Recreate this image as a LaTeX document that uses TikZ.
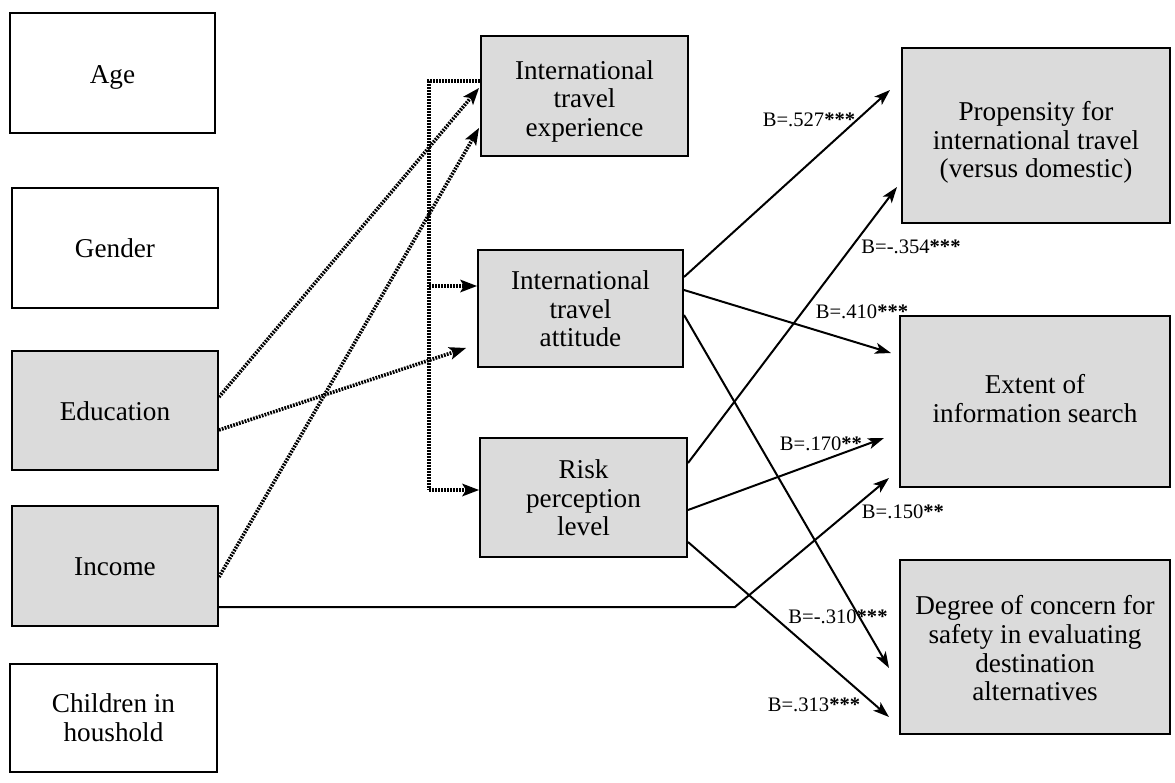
\documentclass[tikz,border=0pt]{standalone}
\usepackage{fontspec}
\setmainfont{Liberation Serif}
\usetikzlibrary{arrows.meta,calc}
\newcommand\dn[2]{\raisebox{-#1}[\height][\depth]{\begin{tabular}{@{}c@{}}#2\end{tabular}}}
\begin{document}
\begin{tikzpicture}[x=0.5pt,y=-0.5pt,
  box/.style={draw, line width=1pt, align=center, inner sep=2pt,
    font=\fontsize{13.6}{14.3}\selectfont},
  wbox/.style={box, fill=white},
  gbox/.style={box, fill=black!14},
  conn/.style={line width=1pt, -{Stealth[length=8pt,width=5.5pt,inset=2pt]}},
  dotline/.style={line width=1.8pt, dash pattern=on 0.9pt off 0.6pt},
  dotarrow/.style={dotline, -{Stealth[length=8.5pt,width=6.5pt,inset=2pt,line width=0pt]}},
  lab/.style={font=\fontsize{10.3}{12}\selectfont, inner sep=0pt}
]
\useasboundingbox (0,0) rectangle (1175,783);

% left column
\node[wbox, minimum width=102.5pt, minimum height=60pt] (age) at (112.5,73) {\dn{2.5pt}{Age}};
\node[wbox, minimum width=103pt, minimum height=60pt] (gen) at (115,248) {\dn{2pt}{Gender}};
\node[gbox, minimum width=103pt, minimum height=59.5pt] (edu) at (115,410.5) {\dn{2pt}{Education}};
\node[gbox, minimum width=103pt, minimum height=60pt] (inc) at (115,566) {\dn{2pt}{Income}};
\node[wbox, minimum width=103.5pt, minimum height=54pt] (chi) at (113.5,718) {\dn{1.5pt}{Children in\\houshold}};

% middle column
\node[gbox, minimum width=103.5pt, minimum height=60pt] (exp) at (584.5,96) {\dn{3pt}{International\\travel\\experience}};
\node[gbox, minimum width=102.5pt, minimum height=58.5pt] (att) at (580.5,308.5) {\dn{2pt}{International\\travel\\attitude}};
\node[gbox, minimum width=103.5pt, minimum height=59.5pt] (risk) at (583.5,497.5) {\dn{2pt}{Risk\\perception\\level}};

% right column
\node[gbox, minimum width=134pt, minimum height=87.5pt] (prop) at (1036,135.5) {\dn{4pt}{Propensity for\\international travel\\(versus domestic)}};
\node[gbox, minimum width=135pt, minimum height=85.5pt] (ext) at (1035,401.5) {\dn{0.5pt}{Extent of\\information search}};
\node[gbox, minimum width=135pt, minimum height=87pt] (deg) at (1035,647) {\dn{2.5pt}{Degree of concern for\\safety in evaluating\\destination\\alternatives}};

% dotted trunk
\coordinate (t1) at (429,81);
\coordinate (t2) at (429,286);
\coordinate (t3) at (429,490);
\draw[dotline] ($(exp.west)+(0,-15)$) -- (t1) -- (t3);
\draw[dotarrow] (t2) -- ($(att.west)+(0,-22.5)$);
\draw[dotarrow] (t3) -- ($(risk.west)+(0,-7.5)$);

% dotted demographic arrows
\draw[dotarrow] ($(edu.east)+(0,-13.5)$) -- ($(exp.west)+(-1,-8)$);
\draw[dotarrow] ($(inc.east)+(0,11)$) -- ($(exp.west)+(-1,32)$);
\draw[dotarrow] ($(edu.east)+(0,19.5)$) -- ($(att.west)+(-11,39.5)$);

% solid arrows
\coordinate (bend) at (735,607);
\draw[conn] ($(att.east)+(0,-31.5)$) -- ($(prop.west)+(-11,-45.5)$);
\draw[conn] ($(risk.east)+(0,-34.5)$) -- ($(prop.west)+(-4,51.5)$);
\draw[conn] ($(att.east)+(0,-18.5)$) -- ($(ext.west)+(-8,-48.5)$);
\draw[conn] ($(att.east)+(0,6.5)$) -- ($(deg.west)+(-10,21)$);
\draw[conn] ($(risk.east)+(0,12.5)$) -- ($(ext.west)+(-15,36.5)$);
\draw[conn] ($(risk.east)+(0,44.5)$) -- ($(deg.west)+(-10,70)$);
\draw[conn] ($(inc.east)+(0,41)$) -- (bend) -- ($(ext.west)+(-10,76.5)$);

% labels
\node[lab] (l1) at (809,120) {B=.527\textbf{***}};
\node[lab] (l2) at (911,247) {B=-.354\textbf{***}};
\node[lab] (l3) at (862,312) {B=.410\textbf{***}};
\node[lab] (l5) at (821,444) {B=.170\textbf{**}};
\node[lab] (l7) at (903,512) {B=.150\textbf{**}};
\node[lab] (l4) at (838,617) {B=-.310\textbf{***}};
\node[lab] (l6) at (814,705) {B=.313\textbf{***}};
\end{tikzpicture}
\end{document}
